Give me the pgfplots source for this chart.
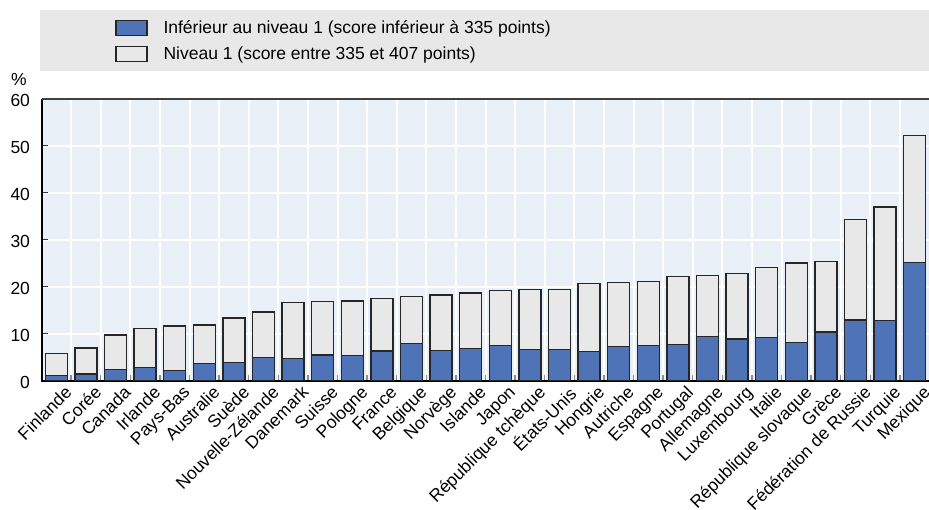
\documentclass[border=0pt]{standalone}
\usepackage{fontspec}
\setmainfont{Liberation Sans}
\usepackage{pgfplots}
\pgfplotsset{compat=1.18}
\definecolor{barblue}{RGB}{79,115,183}
\definecolor{bargray}{RGB}{232,232,232}
\definecolor{plotbg}{RGB}{234,240,248}
\definecolor{legbg}{RGB}{232,232,232}
\newcommand{\fs}{\fontsize{17.5}{21}\selectfont}
\begin{document}
\begin{tikzpicture}[x=1pt,y=1pt]
\useasboundingbox (0,0) rectangle (929,509);
\fill[legbg] (40,438.3) rectangle (929,499);
\node[font=\fs, inner sep=0pt] at (19,430) {\%};
\begin{axis}[
  at={(41.5pt,128.5pt)}, anchor=south west,
  scale only axis, width=888pt, height=282pt,
  xmin=-0.5, xmax=29.5, ymin=0, ymax=60,
  clip=false,
  ybar stacked, bar width=22pt,
  axis background/.style={fill=plotbg},
  axis line style={draw=none},
  xtick={0,...,29},
  xticklabels={Finlande,Corée,Canada,Irlande,Pays-Bas,Australie,Suède,Nouvelle-Zélande,Danemark,Suisse,Pologne,France,Belgique,Norvège,Islande,Japon,République tchèque,États-Unis,Hongrie,Autriche,Espagne,Portugal,Allemagne,Luxembourg,Italie,République slovaque,Grèce,Fédération de Russie,Turquie,Mexique},
  minor xtick={0.5,1.5,...,28.5},
  ytick={0,10,...,60},
  xtick pos=bottom, ytick pos=left,
  tick align=inside,
  major x tick style={draw=none},
  minor x tick style={draw=black!45, line width=1.5pt},
  minor tick length=6pt,
  major tick length=6pt,
  major y tick style={draw=black!80, line width=1pt},
  xminorgrids=true, ymajorgrids=true,
  minor x grid style={white, line width=2pt},
  major y grid style={white, line width=2pt},
  xticklabel style={rotate=45, anchor=north east, font=\fs, inner sep=0pt, xshift=2.5pt, yshift=-8pt},
  yticklabel style={font=\fs, xshift=-8pt, yshift=-2pt},
  /pgf/number format/assume math mode=true,
  legend cell align=left,
  legend style={at={(0.0828,1.284)}, anchor=north west, draw=none, fill=none,
    font=\fs, row sep=8pt, column sep=14pt, inner sep=0pt},
  legend image code/.code={\draw[#1] (0pt,-7.5pt) rectangle (31pt,7.5pt);},
]
\addplot[fill=barblue, draw=black!85, line width=1.3pt] coordinates {
(0,1.1) (1,1.4) (2,2.4) (3,2.8) (4,2.1) (5,3.6) (6,3.9) (7,4.9) (8,4.7) (9,5.4)
(10,5.3) (11,6.3) (12,7.8) (13,6.4) (14,6.8) (15,7.4) (16,6.6) (17,6.6) (18,6.1) (19,7.3)
(20,7.5) (21,7.7) (22,9.3) (23,8.8) (24,9.2) (25,8.1) (26,10.3) (27,12.9) (28,12.7) (29,25.1)};
\addlegendentry{Inférieur au niveau 1 (score inférieur à 335 points)}
\addplot[fill=bargray, draw=black!85, line width=1.3pt] coordinates {
(0,4.7) (1,5.5) (2,7.3) (3,8.2) (4,9.5) (5,8.2) (6,9.4) (7,9.7) (8,11.9) (9,11.4)
(10,11.6) (11,11.2) (12,10.1) (13,11.8) (14,11.8) (15,11.7) (16,12.8) (17,12.8) (18,14.5) (19,13.5)
(20,13.6) (21,14.4) (22,13.1) (23,14.0) (24,14.8) (25,16.9) (26,15.0) (27,21.3) (28,24.2) (29,27.1)};
\addlegendentry{Niveau 1 (score entre 335 et 407 points)}
\draw[black!75, line width=2pt] (rel axis cs:0,1) -- (rel axis cs:1,1);
\draw[black, line width=2pt] (rel axis cs:0,1) -- (rel axis cs:0,0) -- (rel axis cs:1,0);
\end{axis}
\end{tikzpicture}
\end{document}
